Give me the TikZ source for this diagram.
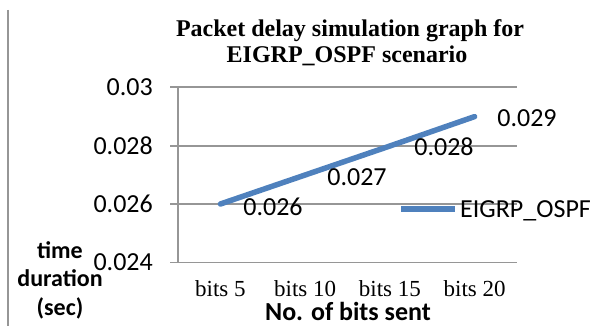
\documentclass[tikz,border=0pt]{standalone}
\usepackage{fontspec}
\setmainfont{Liberation Serif}
\setsansfont{Carlito}

\definecolor{gridgray}{RGB}{150,150,150}
\definecolor{seriesblue}{RGB}{79,129,189}

\tikzset{
  gridline/.style={draw=gridgray, line width=1.5pt},
  series/.style={draw=seriesblue, line width=5.5pt, line cap=round},
  valuelabel/.style={font=\sffamily\fontsize{26}{30}\selectfont, inner sep=0pt},
  catlabel/.style={font=\fontsize{23}{27}\selectfont, inner sep=0pt, anchor=base},
  titlelabel/.style={font=\bfseries\fontsize{24}{26}\selectfont, inner sep=0pt, anchor=base},
  axislabel/.style={font=\sffamily\bfseries\fontsize{24}{28.5}\selectfont, inner sep=0pt}
}

\begin{document}
\begin{tikzpicture}[x=1pt,y=-1pt]
    \useasboundingbox (0,0) rectangle (605,326);
    % rule on the left
    \draw[gridline] (8,10) -- (8,326);
    % gridlines and value axis
    \foreach \v/\y/\n in {0.03/87/1, 0.028/146/2, 0.026/204/3, 0.024/262.5/4}{
        \draw[gridline] (170,\y) -- (517,\y);
        \node[valuelabel, anchor=east] (tick\n) at (153,\y) {\v};
    }
    \draw[gridline] (178,87) -- (178,262.5);
    % category labels
    \foreach \x/\t in {220.4/5, 305.1/10, 389.9/15, 474.6/20}{
        \node[catlabel] (cat\t) at (\x,296.5) {bits \t};
    }
    % data series
    \coordinate (b5) at (220.4,204);
    \coordinate (b10) at (305.1,175);
    \coordinate (b15) at (389.9,146);
    \coordinate (b20) at (474.6,116.6);
    \draw[series] (b5) -- (b10) -- (b15) -- (b20);
    \node[valuelabel] (val5) at (273,207) {0.026};
    \node[valuelabel] (val10) at (357,177) {0.027};
    \node[valuelabel] (val15) at (444,147) {0.028};
    \node[valuelabel] (val20) at (527,118) {0.029};
    % legend
    \coordinate (legA) at (401,209);
    \coordinate (legB) at (455,209);
    \draw[series, line cap=butt] (legA) -- (legB);
    \node[valuelabel, anchor=base west] (legtext) at (460,217) {EIGRP\_OSPF};
    % titles
    \node[titlelabel] (title1) at (350,37) {Packet delay simulation graph for};
    \node[titlelabel] (title2) at (347,63) {EIGRP\_OSPF scenario};
    \node[axislabel, align=center, anchor=base] (ytitle) at (60,315) {time\\duration\\(sec)};
    \node[axislabel, font=\sffamily\bfseries\fontsize{26}{30}\selectfont, anchor=base] (xtitle) at (348,320) {No. of bits sent};
\end{tikzpicture}
\end{document}
